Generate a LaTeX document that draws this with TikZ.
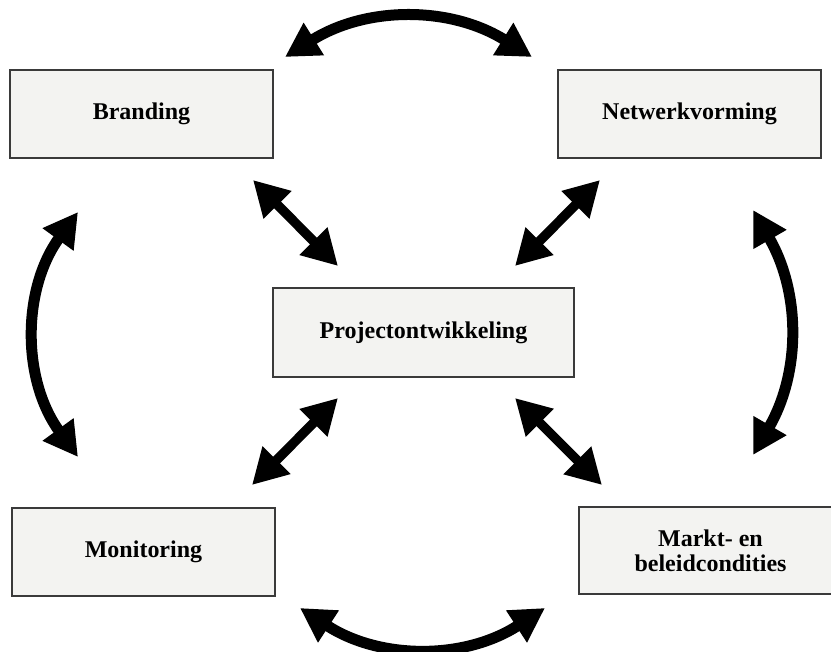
\documentclass[tikz,border=0pt]{standalone}
\usepackage{fontspec}
\setmainfont{Liberation Serif}
\usetikzlibrary{arrows.meta}
\definecolor{boxfill}{HTML}{F3F3F1}
\definecolor{boxline}{HTML}{3A3A3A}
\tikzset{
	blok/.style={draw=boxline, line width=1.5pt, fill=boxfill, minimum height=88pt, inner sep=0pt, align=center, font=\bfseries\fontsize{24}{25}\selectfont},
	wissel/.style={line width=11pt, {Triangle[width=36pt,length=34pt]}-{Triangle[width=36pt,length=34pt]}},
	schuin/.style={line width=9.5pt, {Triangle[width=37pt,length=35pt]}-{Triangle[width=37pt,length=35pt]}}
}

\begin{document}
\begin{tikzpicture}[x=1pt, y=-1pt]
				\useasboundingbox (0,0) rectangle (831,652);
				
				\node[blok, minimum width=263pt] (branding) at (141.5,114) {Branding};
				\node[blok, minimum width=263pt] (netwerk) at (689.5,114) {Netwerkvorming};
				\node[blok, minimum width=301pt, minimum height=89pt] (project) at (423.5,332.5) {Projectontwikkeling};
				\node[blok, minimum width=263pt] (monitoring) at (143.5,552) {Monitoring};
				\node[blok, minimum width=263pt, minimum height=87pt] (markt) at (710.5,550.5) {Markt- en\\beleidcondities};
				
				% einden van de pijlen
				\coordinate (bo1) at (285,57);
				\coordinate (bo2) at (532,57);
				\coordinate (on1) at (300,608);
				\coordinate (on2) at (545,608);
				\coordinate (li1) at (78,212);
				\coordinate (li2) at (78,457);
				\coordinate (re1) at (753,210);
				\coordinate (re2) at (753,455);
				
				\coordinate (nw1) at (253,180);
				\coordinate (nw2) at (338,266);
				\coordinate (ne1) at (600,180);
				\coordinate (ne2) at (515,266);
				\coordinate (zw1) at (338,398);
				\coordinate (zw2) at (252,485);
				\coordinate (zo1) at (515,398);
				\coordinate (zo2) at (602,485);
				
				\draw[wissel] (bo1) to[bend left=32] (bo2);
				\draw[wissel] (on1) to[bend right=33] (on2);
				\draw[wissel] (li1) to[bend right=36] (li2);
				\draw[wissel] (re1) to[bend left=30] (re2);
				
				\draw[schuin] (nw1) -- (nw2);
				\draw[schuin] (ne1) -- (ne2);
				\draw[schuin] (zw1) -- (zw2);
				\draw[schuin] (zo1) -- (zo2);
			\end{tikzpicture}
\end{document}
